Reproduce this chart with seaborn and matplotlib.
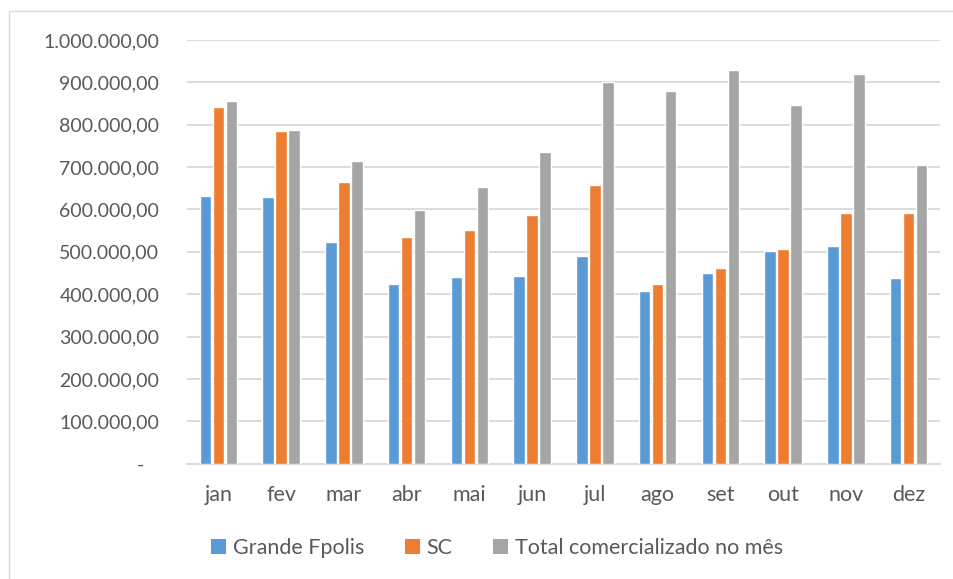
import matplotlib
matplotlib.use("Agg")
import matplotlib.pyplot as plt
from matplotlib.lines import Line2D
from matplotlib.patches import Patch
from matplotlib.ticker import FuncFormatter, MultipleLocator
import pandas as pd
import seaborn as sns

# Monthly volumes traded
months = ["jan", "fev", "mar", "abr", "mai", "jun", "jul", "ago", "set", "out", "nov", "dez"]
grande_fpolis = [631500, 630000, 524000, 424000, 440000, 442000, 490000, 408000, 450000, 502000, 513000, 438000]
sc = [843000, 786000, 665000, 535000, 551000, 587000, 657000, 423000, 461000, 507000, 592000, 592000]
total_mes = [855000, 787000, 714000, 599000, 654000, 736000, 902000, 879000, 930000, 846000, 920000, 704000]

series_names = ["Grande Fpolis", "SC", "Total comercializado no mês"]
colors = ["#5B9BD5", "#ED7D31", "#A5A5A5"]
text_color = "#595959"
grid_color = "#D9D9D9"

df = pd.DataFrame({
    "mes": months * 3,
    "serie": [series_names[0]] * 12 + [series_names[1]] * 12 + [series_names[2]] * 12,
    "valor": grande_fpolis + sc + total_mes,
})

sns.set_theme(style="white")
plt.rcParams["font.family"] = ["Lato", "DejaVu Sans"]

fig = plt.figure(figsize=(9.54, 5.79), dpi=100)
ax = fig.add_axes([187 / 954, 1 - 463.7 / 579, (940 - 187) / 954, (463.7 - 40) / 579])

sns.barplot(data=df, x="mes", y="valor", hue="serie", hue_order=series_names,
            palette=colors, order=months, width=0.62, gap=0.12,
            saturation=1, errorbar=None, legend=False, ax=ax, zorder=3)

ax.set_ylim(0, 1_000_000)
ax.set_xlim(-0.5, len(months) - 0.5)
ax.yaxis.set_major_locator(MultipleLocator(100_000))


def br_fmt(v, _pos):
    if abs(v) < 1e-9:
        return "-   "
    s = f"{v:,.2f}"
    return s.replace(",", "X").replace(".", ",").replace("X", ".")


ax.yaxis.set_major_formatter(FuncFormatter(br_fmt))
ax.grid(axis="y", color=grid_color, linewidth=1.3, zorder=0)
ax.grid(axis="x", visible=False)
for side in ["left", "right", "top"]:
    ax.spines[side].set_visible(False)
ax.spines["bottom"].set_color(grid_color)
ax.spines["bottom"].set_linewidth(1.3)
ax.set_xlabel("")
ax.set_ylabel("")
ax.tick_params(axis="y", length=0, pad=20, labelsize=14, labelcolor=text_color)
ax.tick_params(axis="x", length=0, pad=15, labelsize=15.5, labelcolor=text_color)

handles = [Patch(facecolor=c, edgecolor="none") for c in colors]
fig.legend(handles, series_names, loc="center", bbox_to_anchor=(497 / 954, 1 - 548 / 579),
           ncol=3, frameon=False, fontsize=15.5, labelcolor=text_color,
           handlelength=0.7, handleheight=0.7, handletextpad=0.3, columnspacing=1.9)

# Thin frame on the top and left edges of the chart area
fig.add_artist(Line2D([9 / 954, 1.0], [1 - 11 / 579, 1 - 11 / 579], transform=fig.transFigure,
                      color="#D9D9D9", linewidth=1.0))
fig.add_artist(Line2D([9 / 954, 9 / 954], [0.0, 1 - 11 / 579], transform=fig.transFigure,
                      color="#D9D9D9", linewidth=1.0))

fig.savefig("out.png", dpi=100, facecolor="white")
